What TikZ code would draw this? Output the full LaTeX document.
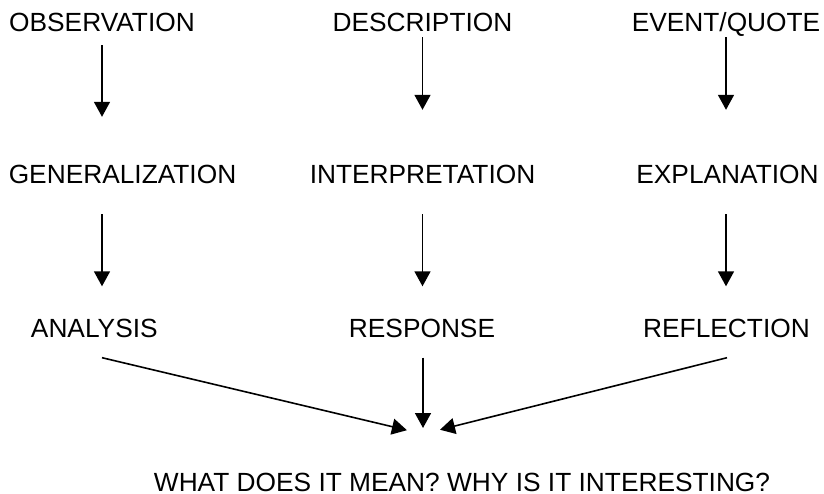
\documentclass[tikz,border=0pt]{standalone}
\usepackage{fontspec}
\setmainfont{Liberation Sans}
\usetikzlibrary{arrows.meta,calc}

\begin{document}
\begin{tikzpicture}[x=1pt,y=-1pt,
  word/.style={inner sep=0pt,text height=19pt,text depth=0pt,
    font=\fontsize{26.3}{30}\selectfont},
  arr/.style={line width=1.6pt,-{Triangle[length=15pt,width=16pt]}}]

  \useasboundingbox (0,0) rectangle (824,494);

  %% top row
  \node[word] (obs) at (102,22.5) {OBSERVATION};
  \node[word] (des) at (422.5,22.5) {DESCRIPTION};
  \node[word] (evt) at (726,22.5) {EVENT/QUOTE};

  %% middle row
  \node[word] (gen) at (122.5,174.5) {GENERALIZATION};
  \node[word] (int) at (422.5,174.5) {INTERPRETATION};
  \node[word] (exp) at (727.5,174.5) {EXPLANATION};

  %% bottom row
  \node[word] (ana) at (94.3,328) {ANALYSIS};
  \node[word] (res) at (422,328) {RESPONSE};
  \node[word] (ref) at (726.5,328) {REFLECTION};

  \node[word] (q) at (462,481.5) {WHAT DOES IT MEAN? WHY IS IT INTERESTING?};

  \coordinate (focus) at (423,434);
  \coordinate (ana-out) at ($(ana.south -| obs)+(0,20)$);
  \coordinate (ref-out) at ($(ref.south -| evt)+(1,20)$);

  \draw[arr,shorten <=13pt,shorten >=48pt] (obs.south) -- (obs.south |- gen.north); %% 1 -> 2
  \draw[arr,shorten <=5pt,shorten >=55pt] (des.south) -- (des.south |- int.north);
  \draw[arr,shorten <=5pt,shorten >=55pt] (evt.south) -- (evt.south |- exp.north);

  \draw[arr,shorten <=30pt,shorten >=32pt] (gen.south -| obs) -- (ana.north -| obs); %% 2 -> 3
  \draw[arr,shorten <=30pt,shorten >=32pt] (int.south -| des) -- (res.north -| des);
  \draw[arr,shorten <=30pt,shorten >=32pt] (exp.south -| evt) -- (ref.north -| evt);

  \draw[arr,shorten >=16.5pt] (ana-out) -- (focus); %% 3 -> q
  \draw[arr,shorten <=20pt,shorten >=6pt] (res.south -| focus) -- (focus);
  \draw[arr,shorten >=17.5pt] (ref-out) -- (focus);

\end{tikzpicture}
\end{document}
